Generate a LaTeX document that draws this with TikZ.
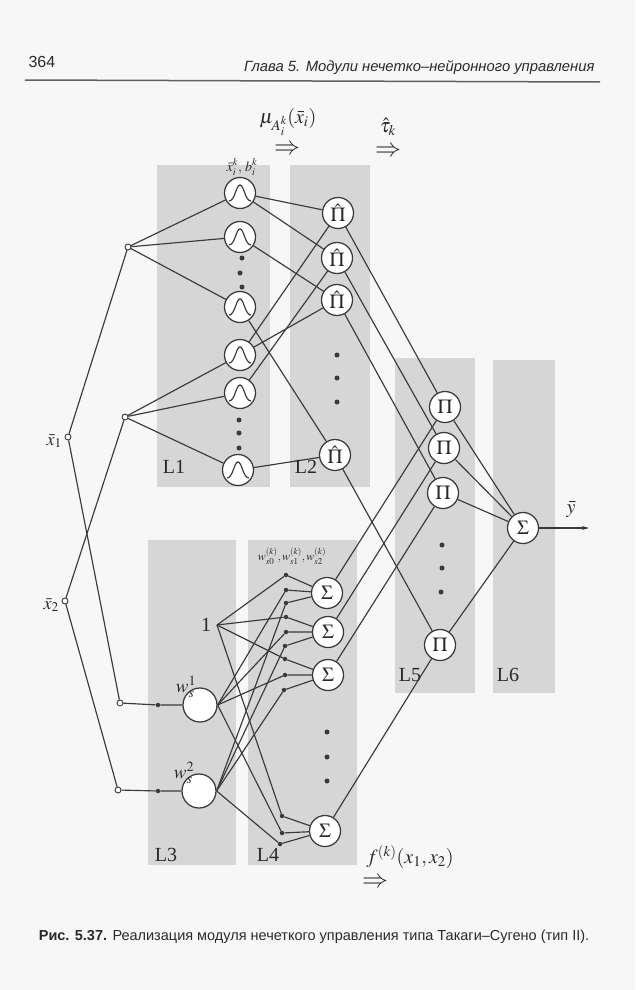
\documentclass[tikz,border=0pt]{standalone}
\usepackage{mathptmx}
\usepackage{fontspec}
\setmainfont{Liberation Serif}
\newfontfamily\headfont{Liberation Sans}
\usetikzlibrary{arrows.meta}
\definecolor{bgcol}{HTML}{F7F7F7}
\definecolor{bandcol}{HTML}{D6D6D6}
\definecolor{linecol}{HTML}{3A3A3A}
\definecolor{textcol}{HTML}{2A2A2A}
\pgfdeclarelayer{bandlayer}
\pgfdeclarelayer{linelayer}
\pgfsetlayers{bandlayer,linelayer,main}
\begin{document}
\begin{tikzpicture}[x=1pt,y=-1pt,
  band/.style={fill=bandcol,draw=none},
  ln/.style={draw=linecol,line width=1.15pt},
  neuron/.style={circle,draw=linecol,fill=white,line width=1.25pt,minimum size=31pt,inner sep=0pt,font=\fontsize{20}{20}\selectfont,text=textcol},
  bigneuron/.style={circle,draw=linecol,fill=white,line width=1.25pt,minimum size=34pt,inner sep=0pt},
  smallc/.style={circle,draw=linecol,fill=white,line width=0.9pt,minimum size=6pt,inner sep=0pt},
  wdot/.style={circle,fill=linecol,minimum size=4.5pt,inner sep=0pt},
  vdot/.style={circle,fill=linecol,minimum size=5pt,inner sep=0pt},
  layerlab/.style={font=\fontsize{20}{20}\selectfont,text=textcol},
  mathlab/.style={font=\fontsize{20}{20}\selectfont,text=textcol,inner sep=1pt},
  imp/.style={font=\fontsize{26}{26}\selectfont,text=textcol,inner sep=0pt}
]
\useasboundingbox (0,0) rectangle (635,990);
\begin{pgfonlayer}{bandlayer}
\fill[bgcol] (0,0) rectangle (635,990);
\fill[band] (157,165) rectangle (270,487);
\fill[band] (290,165) rectangle (370,487);
\fill[band] (148,540) rectangle (236,865);
\fill[band] (248,540) rectangle (357,865);
\fill[band] (395,358) rectangle (475,693);
\fill[band] (493,360) rectangle (555,693);
\end{pgfonlayer}

% header
\node[anchor=west,font=\headfont\fontsize{16}{16}\selectfont,text=textcol] (pg) at (25,62) {364};
\node[anchor=east,font=\headfont\itshape\fontsize{14.8}{14.8}\selectfont,text=textcol] (hd) at (598,68) {Глава 5. Модули нечетко–нейронного управления};
\coordinate (rl) at (25,80);
\coordinate (rr) at (600,82);
\draw[line width=1.5pt,draw=linecol!80] (rl) -- (rr);

% inputs
\node[smallc] (x1) at (68,437) {};
\node[smallc] (x2) at (65,601) {};
\node[mathlab,anchor=east,font=\fontsize{18}{18}\selectfont] (x1l) at (63,441) {$\bar{x}_1$};
\node[mathlab,anchor=east,font=\fontsize{18}{18}\selectfont] (x2l) at (60,605) {$\bar{x}_2$};
\node[smallc] (b1) at (128,247) {};
\node[smallc] (b2) at (125,417) {};
\node[smallc] (i1) at (120,703) {};
\node[smallc] (i2) at (118,790) {};
\node[wdot] (wd1) at (158,705) {};
\node[wdot] (wd2) at (158,791) {};

% L1
\node[neuron] (g1) at (240,193) {};
\node[neuron] (g2) at (240,237) {};
\node[neuron] (g3) at (240,307) {};
\node[neuron] (g4) at (240,355) {};
\node[neuron] (g5) at (240,393) {};
\node[neuron] (g6) at (238,470) {};
\foreach \n in {g1,g2,g3,g4,g5,g6}
  \draw[linecol,line width=1.15pt] ([shift={(-11,8)}]\n.center) .. controls +(6,0) and +(-4,0) .. ([shift={(0,-8)}]\n.center) .. controls +(4,0) and +(-6,0) .. ([shift={(11,8)}]\n.center);
\node[font=\fontsize{14}{14}\selectfont,text=textcol,inner sep=0pt] (g1l) at (242,167) {$\bar{x}_i^k,\,b_i^k$};

% L2
\node[neuron] (p1) at (338,213) {$\hat{\Pi}$};
\node[neuron] (p2) at (337,258) {$\hat{\Pi}$};
\node[neuron] (p3) at (337,300) {$\hat{\Pi}$};
\node[neuron] (p4) at (335,455) {$\hat{\Pi}$};

% L5
\node[neuron] (q1) at (445,407) {$\Pi$};
\node[neuron] (q2) at (444,448) {$\Pi$};
\node[neuron] (q3) at (443,493) {$\Pi$};
\node[neuron] (q4) at (440,645) {$\Pi$};

% L6
\node[neuron] (s6) at (523,528) {$\Sigma$};
\coordinate (yout) at (589,528);
\node[mathlab] (yl) at (571,510) {$\bar{y}$};

% L3
\node[bigneuron] (m1) at (200,705) {};
\node[bigneuron] (m2) at (199,791) {};
\node[mathlab,font=\fontsize{19}{19}\selectfont] (w1l) at (186,687) {$w_s^1$};
\node[mathlab,font=\fontsize{19}{19}\selectfont] (w2l) at (184,773) {$w_s^2$};
\node[font=\fontsize{20}{20}\selectfont,text=textcol,inner sep=1pt] (one) at (206,625) {1};
\coordinate (onep) at (217,625);

% L4
\node[neuron] (s1) at (327,593) {$\Sigma$};
\node[neuron] (s2) at (328,632) {$\Sigma$};
\node[neuron] (s3) at (328,675) {$\Sigma$};
\node[neuron] (s4) at (325,831) {$\Sigma$};
\node[font=\fontsize{12}{12}\selectfont,text=textcol,inner sep=0pt] (wl) at (292,556) {$w_{s0}^{(k)},w_{s1}^{(k)},w_{s2}^{(k)}$};
\node[wdot] (w11) at (286,575) {};
\node[wdot] (w12) at (286,590) {};
\node[wdot] (w13) at (286,603) {};
\node[wdot] (w21) at (286,617) {};
\node[wdot] (w22) at (286,632) {};
\node[wdot] (w23) at (285,646) {};
\node[wdot] (w31) at (285,659) {};
\node[wdot] (w32) at (285,675) {};
\node[wdot] (w33) at (284,690) {};
\node[wdot] (w41) at (282,816) {};
\node[wdot] (w42) at (282,833) {};
\node[wdot] (w43) at (280,844) {};

% ellipsis dots
\foreach \p/\q in {242/258,240/273,242/287,239/420,239/433,239/448,337/355,337/378,337/402,327/732,327/757,327/781,442/545,442/568,441/592}
  \node[vdot] at (\p,\q) {};

% layer labels
\node[layerlab] (L1) at (174,467) {L1};
\node[layerlab] (L2) at (306,467) {L2};
\node[layerlab] (L3) at (166,855) {L3};
\node[layerlab] (L4) at (268,855) {L4};
\node[layerlab] (L5) at (410,675) {L5};
\node[layerlab] (L6) at (508,675) {L6};

% top labels
\node[mathlab] (mu) at (288,122) {$\mu_{A_i^k}(\bar{x}_i)$};
\node[imp] (imp1) at (287,150) {$\Rightarrow$};
\node[mathlab] (tau) at (388,127) {$\hat{\tau}_k$};
\node[imp] (imp2) at (388,152) {$\Rightarrow$};
\node[mathlab] (fk) at (410,857) {$f^{(k)}(x_1,x_2)$};
\node[imp] (imp3) at (375,883) {$\Rightarrow$};

% caption
\node[font=\headfont\fontsize{14.5}{14.5}\selectfont,text=textcol] (cap) at (314,937) {\textbf{Рис. 5.37.} Реализация модуля нечеткого управления типа Такаги–Сугено (тип II).};

\begin{pgfonlayer}{linelayer}
\draw[ln] (x1) -- (b1);
\draw[ln] (x1) -- (i1);
\draw[ln] (x2) -- (b2);
\draw[ln] (x2) -- (i2);
\foreach \g in {g1,g2,g3} \draw[ln] (b1) -- (\g);
\foreach \g in {g4,g5,g6} \draw[ln] (b2) -- (\g);
\draw[ln] (i1) -- (wd1) -- (m1);
\draw[ln] (i2) -- (wd2) -- (m2);
\foreach \a/\b in {g1/p1,g1/p2,g2/p3,g3/p4,g4/p1,g5/p2,g4/p3,g6/p4,p1/q1,p2/q2,p3/q3,p4/q4,s1/q1,s2/q2,s3/q3,s4/q4,q1/s6,q2/s6,q3/s6,q4/s6}
  \draw[ln] (\a) -- (\b);
\draw[ln,-{Stealth[length=7pt,width=4pt]}] (s6) -- (yout);
\foreach \k in {1,2,3,4} {
  \draw[ln] (onep) -- (w\k1) -- (s\k);
  \draw[ln] (m1.east) -- (w\k2) -- (s\k);
  \draw[ln] (m2.east) -- (w\k3) -- (s\k);
}
\end{pgfonlayer}
\end{tikzpicture}
\end{document}
